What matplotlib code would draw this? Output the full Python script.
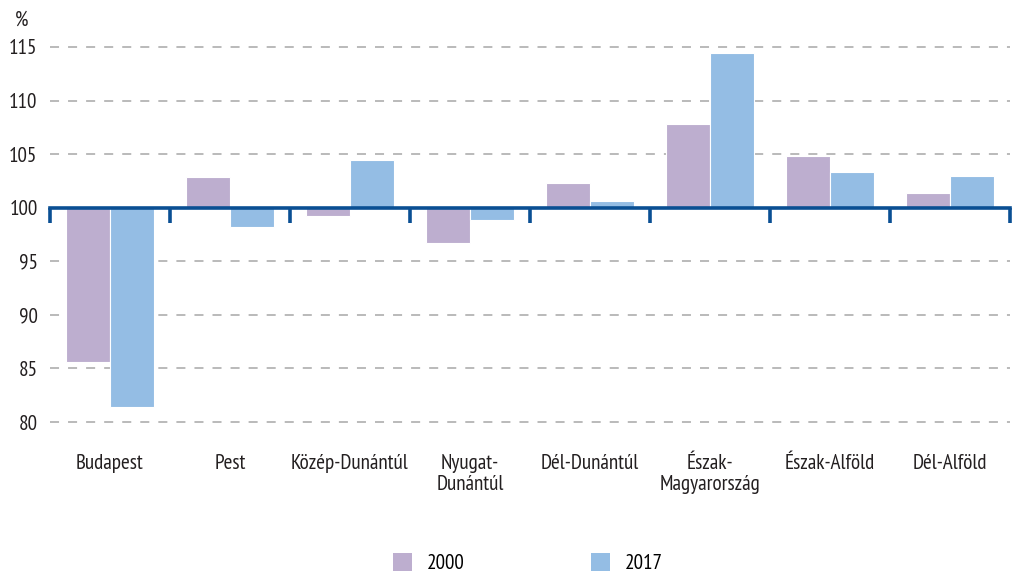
import matplotlib
matplotlib.use("Agg")
import matplotlib.pyplot as plt
import numpy as np
from matplotlib.patches import Patch
from matplotlib import font_manager

available = set(f.name for f in font_manager.fontManager.ttflist)
preferred = ["PT Sans Narrow", "Roboto Condensed", "Fira Sans Condensed", "Open Sans Condensed",
             "Encode Sans Condensed", "Asap Condensed", "Barlow Semi Condensed", "Roboto"]
chosen = next((f for f in preferred if f in available), "DejaVu Sans")
plt.rcParams['font.family'] = [chosen, 'DejaVu Sans']

categories = ["Budapest", "Pest", "Közép-Dunántúl", "Nyugat-\nDunántúl", "Dél-Dunántúl",
              "Észak-\nMagyarország", "Észak-Alföld", "Dél-Alföld"]
series_names = ["2000", "2017"]
values_2000 = [85.6, 102.9, 99.25, 96.7, 102.3, 107.85, 104.8, 101.4]
values_2017 = [81.4, 98.2, 104.5, 98.9, 100.6, 114.4, 103.3, 103.0]
yticks = [80, 85, 90, 95, 100, 105, 110, 115]

c2000 = "#bdaecf"
c2017 = "#94bde4"
axis_blue = "#0a4f93"
text_col = "#231f20"
fs = 15.2

fig = plt.figure(figsize=(10.15, 5.75), dpi=100)
ax = fig.add_axes([50/1015, 1-422/575, 960/1015, (422-47)/575])

x = np.arange(len(categories))
w = 0.367
ax.bar(x - w/2, np.array(values_2000) - 100, w, bottom=100, color=c2000,
       edgecolor="white", linewidth=0.8, zorder=2)
ax.bar(x + w/2, np.array(values_2017) - 100, w, bottom=100, color=c2017,
       edgecolor="white", linewidth=0.8, zorder=2)

ax.set_xlim(-0.5, len(categories) - 0.5)
ax.set_ylim(80, 115)
ax.set_yticks(yticks)
ax.set_yticklabels([str(v) for v in yticks], fontsize=fs, color=text_col)
ax.tick_params(axis='y', length=0, pad=9)
for v in yticks:
    if v != 100:
        ax.axhline(v, color="#b4b4b4", lw=1.3, ls=(0, (5, 5)), zorder=1, clip_on=False)

for s in ["left", "right", "top"]:
    ax.spines[s].set_visible(False)
ax.spines["bottom"].set_position(("data", 100))
ax.spines["bottom"].set_color(axis_blue)
ax.spines["bottom"].set_linewidth(2.6)
ax.spines["bottom"].set_zorder(3)
ax.set_xticks(np.arange(len(categories) + 1) - 0.5)
ax.set_xticklabels([])
ax.tick_params(axis='x', length=11, width=2.6, color=axis_blue, direction='out')

sec = ax.secondary_xaxis(0.0)
sec.set_xticks(x)
sec.set_xticklabels(categories, fontsize=fs, color=text_col, linespacing=1.15)
sec.tick_params(axis='x', length=0, pad=23)
sec.spines["bottom"].set_visible(False)

fig.text(22/1015, 1-20/575, "%", fontsize=fs, color=text_col, ha="center", va="center")

handles = [Patch(facecolor=c2000, edgecolor="none"), Patch(facecolor=c2017, edgecolor="none")]
fig.legend(handles, series_names, loc="lower center", bbox_to_anchor=(528/1015, -0.03),
           ncol=2, frameon=False, fontsize=fs, handlelength=0.9, handleheight=0.9,
           handletextpad=0.7, columnspacing=6.0)

fig.savefig("out.png", dpi=100)
